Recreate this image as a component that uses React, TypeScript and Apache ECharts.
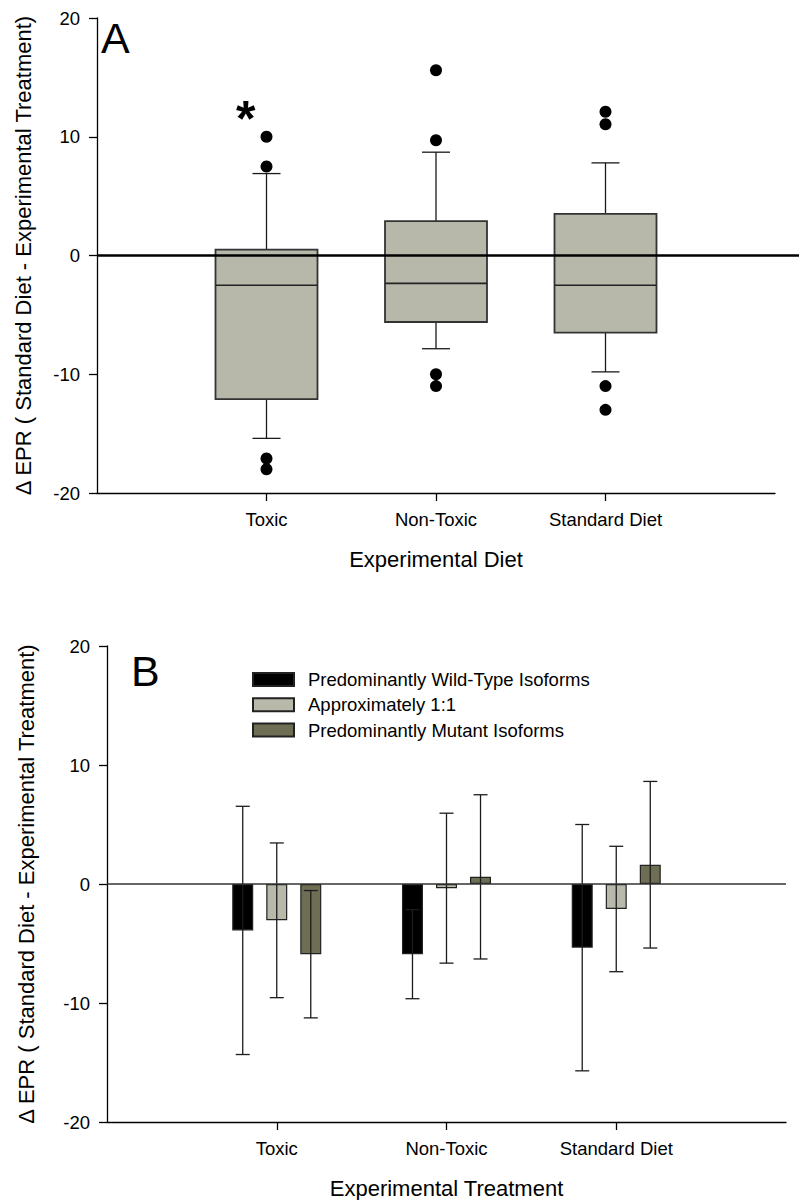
import React, { useEffect, useRef } from "react";
import * as echarts from "echarts";

// ---- Data ----
const xCategories = ["", "Toxic", "Non-Toxic", "Standard Diet", ""];
const groups = ["Toxic", "Non-Toxic", "Standard Diet"];
const yTicksMin = -20;
const yTicksMax = 20;
const yTickStep = 10;

// Panel A box statistics: [lower whisker, Q1, median, Q3, upper whisker]
const boxToxic = [-15.4, -12.1, -2.5, 0.5, 6.9];
const boxNonToxic = [-7.85, -5.6, -2.35, 2.9, 8.7];
const boxStandard = [-9.8, -6.5, -2.5, 3.5, 7.8];

// Panel A outliers
const outToxic = [10.0, 7.5, -17.1, -18.0];
const outNonToxic = [15.6, 9.7, -10.0, -11.0];
const outStandard = [12.1, 11.05, -11.0, -13.0];

// Panel B means and error (SD) per group
const isoformNames = [
  "Predominantly Wild-Type Isoforms",
  "Approximately 1:1",
  "Predominantly Mutant Isoforms",
];
const wildMean = [-3.9, -5.9, -5.35];
const wildErr = [10.43, 3.74, 10.35];
const approxMean = [-3.05, -0.35, -2.1];
const approxErr = [6.5, 6.3, 5.27];
const mutantMean = [-5.9, 0.6, 1.62];
const mutantErr = [5.35, 6.9, 7.0];

const FONT = 'Arial, "Liberation Sans", sans-serif';
const BOX_FILL = "#b7b8aa";
const COLORS = ["#000000", "#b8b9ab", "#6e6e55"];

const catIndex = (g: string) => xCategories.indexOf(g);

export default function App() {
  const ref = useRef<HTMLDivElement>(null);
  useEffect(() => {
    if (!ref.current) return;
    const chart = echarts.init(ref.current, null, { renderer: "svg" });

    const boxes = [boxToxic, boxNonToxic, boxStandard];
    const boxData = groups.map((g, i) => [catIndex(g), ...boxes[i]]);
    const outs = [outToxic, outNonToxic, outStandard];
    const outlierData: number[][] = [];
    groups.forEach((g, i) => outs[i].forEach((v) => outlierData.push([catIndex(g), v])));

    const means = [wildMean, approxMean, mutantMean];
    const errs = [wildErr, approxErr, mutantErr];
    const barW = 21;
    const barGapRatio = 0.62;
    const spacing = barW * (1 + barGapRatio);

    const axisLineStyle = { color: "#000", width: 1.3 };

    const xAxisCommon = (gridIndex: number, name: string) => ({
      type: "category",
      gridIndex,
      data: xCategories,
      boundaryGap: false,
      axisLine: { show: true, lineStyle: axisLineStyle, onZero: false },
      axisTick: {
        show: true,
        length: 8,
        lineStyle: axisLineStyle,
        interval: (i: number) => i > 0 && i < xCategories.length - 1,
      },
      axisLabel: { interval: 0, margin: 17, fontSize: 18.5, color: "#000", fontFamily: FONT },
      splitLine: { show: false },
      name,
      nameLocation: "middle",
      nameGap: 55,
      nameTextStyle: { fontSize: 22, color: "#000", fontFamily: FONT },
    });

    const yAxisCommon = (gridIndex: number, nameGap: number) => ({
      type: "value",
      gridIndex,
      min: yTicksMin,
      max: yTicksMax,
      interval: yTickStep,
      axisLine: { show: true, lineStyle: axisLineStyle },
      axisTick: { show: true, length: 8, lineStyle: axisLineStyle },
      axisLabel: { margin: 17, fontSize: 18.5, color: "#000", fontFamily: FONT },
      splitLine: { show: false },
      name: "\u0394 EPR ( Standard Diet - Experimental Treatment)",
      nameLocation: "middle",
      nameGap,
      nameTextStyle: { fontSize: 22, color: "#000", fontFamily: FONT },
    });

    const series: any[] = [
      {
        type: "custom",
        name: "boxes",
        xAxisIndex: 0,
        yAxisIndex: 0,
        z: 2,
        data: boxData,
        encode: { x: 0, y: [1, 2, 3, 4, 5] },
        renderItem: (params: any, api: any) => {
          const c = api.value(0);
          const x = api.coord([c, 0])[0];
          const y = (k: number) => api.coord([c, api.value(k)])[1];
          const yMin = y(1), yQ1 = y(2), yMed = y(3), yQ3 = y(4), yMax = y(5);
          const hb = 51, hc = 14;
          const ls = { stroke: "#1a1a1a", lineWidth: 1.3 };
          return {
            type: "group",
            children: [
              { type: "line", shape: { x1: x, y1: yQ1, x2: x, y2: yMin }, style: ls },
              { type: "line", shape: { x1: x - hc, y1: yMin, x2: x + hc, y2: yMin }, style: ls },
              { type: "line", shape: { x1: x, y1: yQ3, x2: x, y2: yMax }, style: ls },
              { type: "line", shape: { x1: x - hc, y1: yMax, x2: x + hc, y2: yMax }, style: ls },
              {
                type: "rect",
                shape: { x: x - hb, y: yQ3, width: 2 * hb, height: yQ1 - yQ3 },
                style: { fill: BOX_FILL, stroke: "#333", lineWidth: 1.8 },
              },
              {
                type: "line",
                shape: { x1: x - hb, y1: yMed, x2: x + hb, y2: yMed },
                style: { stroke: "#222", lineWidth: 1.6 },
              },
            ],
          };
        },
      },
      {
        type: "custom",
        name: "zeroA",
        xAxisIndex: 0,
        yAxisIndex: 0,
        z: 3,
        clip: false,
        data: [[0, 0]],
        renderItem: (params: any, api: any) => {
          const p = api.coord([api.value(0), api.value(1)]);
          return {
            type: "line",
            shape: { x1: p[0], y1: p[1], x2: api.getWidth(), y2: p[1] },
            style: { stroke: "#000", lineWidth: 2.6 },
          };
        },
      },
      {
        type: "scatter",
        name: "outliers",
        xAxisIndex: 0,
        yAxisIndex: 0,
        z: 4,
        symbol: "circle",
        symbolSize: 12,
        itemStyle: { color: "#000", opacity: 1 },
        data: outlierData,
      },
    ];

    isoformNames.forEach((name, k) => {
      series.push({
        type: "bar",
        name,
        xAxisIndex: 1,
        yAxisIndex: 1,
        barWidth: barW,
        barGap: `${barGapRatio * 100}%`,
        z: 2,
        itemStyle: { color: COLORS[k], borderColor: "#222", borderWidth: 1.2 },
        data: groups.map((g, i) => [catIndex(g), means[k][i]]),
      });
    });

    isoformNames.forEach((name, k) => {
      const offset = (k - 1) * spacing;
      series.push({
        type: "custom",
        name: name + " err",
        xAxisIndex: 1,
        yAxisIndex: 1,
        z: 3,
        data: groups.map((g, i) => [catIndex(g), means[k][i], errs[k][i]]),
        encode: { x: 0, y: 1 },
        renderItem: (params: any, api: any) => {
          const c = api.value(0);
          const m = api.value(1);
          const e = api.value(2);
          const x = api.coord([c, m])[0] + offset;
          const yt = api.coord([c, m + e])[1];
          const yb = api.coord([c, m - e])[1];
          const hc = 7;
          const ls = { stroke: "#1c1c1c", lineWidth: 1.3 };
          return {
            type: "group",
            children: [
              { type: "line", shape: { x1: x, y1: yt, x2: x, y2: yb }, style: ls },
              { type: "line", shape: { x1: x - hc, y1: yt, x2: x + hc, y2: yt }, style: ls },
              { type: "line", shape: { x1: x - hc, y1: yb, x2: x + hc, y2: yb }, style: ls },
            ],
          };
        },
      });
    });

    series.push({
      type: "custom",
      name: "zeroB",
      xAxisIndex: 1,
      yAxisIndex: 1,
      z: 4,
      data: [[0, 0]],
      renderItem: (params: any, api: any) => {
        const p0 = api.coord([0, 0]);
        const p1 = api.coord([xCategories.length - 1, 0]);
        return {
          type: "line",
          shape: { x1: p0[0], y1: p0[1], x2: p1[0], y2: p1[1] },
          style: { stroke: "#333", lineWidth: 1.4 },
        };
      },
    });

    chart.setOption({
      animation: false,
      backgroundColor: "#fff",
      textStyle: { fontFamily: FONT },
      grid: [
        { left: 97, right: 24, top: 18, height: 475 },
        { left: 107, right: 13, top: 646, height: 476 },
      ],
      xAxis: [xAxisCommon(0, "Experimental Diet"), xAxisCommon(1, "Experimental Treatment")],
      yAxis: [yAxisCommon(0, 63), yAxisCommon(1, 70)],
      legend: {
        data: isoformNames,
        orient: "vertical",
        left: 252,
        top: 670,
        padding: 0,
        itemWidth: 41,
        itemHeight: 13,
        itemGap: 6.3,
        icon: "rect",
        textStyle: { fontSize: 18.5, lineHeight: 18, color: "#000", fontFamily: FONT, padding: [0, 0, 0, 9] },
        selectedMode: false,
      },
      graphic: [
        { type: "text", left: 101, top: 16, style: { text: "A", fontSize: 43, fill: "#000", fontFamily: FONT } },
        { type: "text", left: 131, top: 649, style: { text: "B", fontSize: 43, fill: "#000", fontFamily: FONT } },
        {
          type: "text",
          left: 236,
          top: 94,
          style: { text: "*", fontSize: 50, fontWeight: "bold", fill: "#000", fontFamily: FONT },
        },
      ],
      series,
    });

    return () => chart.dispose();
  }, []);

  return (
    <div
      ref={ref}
      style={{ position: "absolute", left: 0, top: 0, width: 799, height: 1200, background: "#fff" }}
    />
  );
}
